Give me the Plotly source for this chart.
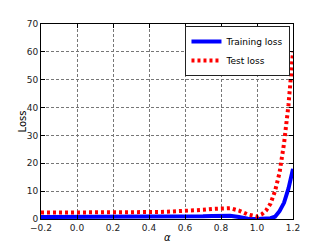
import plotly.graph_objects as go

alpha = [-0.2, -0.15, -0.1, -0.05, 0.0, 0.05, 0.1, 0.15, 0.2, 0.25, 0.3, 0.35, 0.4, 0.45,
         0.5, 0.55, 0.6, 0.65, 0.7, 0.75, 0.8, 0.85, 0.9, 0.95, 1.0, 1.025, 1.05, 1.075,
         1.1, 1.125, 1.15, 1.175, 1.2]
train_loss = [0.7, 0.7, 0.7, 0.7, 0.7, 0.7, 0.7, 0.7, 0.7, 0.7, 0.7, 0.7, 0.75, 0.8,
              0.8, 0.85, 0.9, 0.95, 1.0, 1.1, 1.2, 1.2, 0.7, 0.1, 0.0, 0.0, 0.1, 0.3,
              0.8, 2.8, 5.8, 11.0, 18.0]
test_loss = [2.3, 2.3, 2.2, 2.2, 2.2, 2.2, 2.2, 2.2, 2.2, 2.2, 2.2, 2.3, 2.4, 2.5,
             2.6, 2.7, 2.9, 3.1, 3.3, 3.6, 3.8, 3.9, 3.0, 1.6, 0.9, 1.6, 3.0, 5.5,
             10.0, 16.5, 27.0, 41.0, 60.0]

fig = go.Figure()
fig.add_trace(go.Scatter(x=alpha, y=train_loss, mode="lines", name="Training loss",
                         line=dict(color="#0000ff", width=4)))
fig.add_trace(go.Scatter(x=alpha, y=test_loss, mode="lines", name="Test loss",
                         line=dict(color="#ff0000", width=4, dash="3px,3px")))

axis_common = dict(showline=True, linecolor="black", linewidth=1, mirror="ticks",
                   ticks="inside", ticklen=4, tickcolor="black", automargin=False,
                   showgrid=True, gridcolor="#777777", gridwidth=1, griddash="3px,2px",
                   zeroline=False, tickfont=dict(family="DejaVu Sans", size=9, color="#222222"))

fig.update_layout(
    width=319, height=237,
    margin=dict(l=33, r=34, t=16, b=26),
    paper_bgcolor="white", plot_bgcolor="white",
    font=dict(family="DejaVu Sans", size=9, color="black"),
    xaxis=dict(range=[-0.2, 1.2], dtick=0.2, tickformat=".1f", **axis_common),
    yaxis=dict(range=[0, 70], dtick=10, **axis_common),
    legend=dict(x=0.99, y=0.99, xanchor="right", yanchor="top",
                bgcolor="white", bordercolor="#222222", borderwidth=1,
                font=dict(size=9), tracegroupgap=0, itemwidth=30),
    showlegend=True,
    annotations=[
        dict(text="<i>α</i>", xref="paper", yref="paper", x=0.5, y=0,
             xanchor="center", yanchor="top", yshift=-11, showarrow=False,
             font=dict(size=10, color="black")),
        dict(text="Loss", xref="paper", yref="paper", x=0, y=0.5,
             xanchor="center", yanchor="middle", xshift=-19, textangle=-90,
             showarrow=False, font=dict(size=10, color="black")),
    ],
)

fig.write_html("out.html")
